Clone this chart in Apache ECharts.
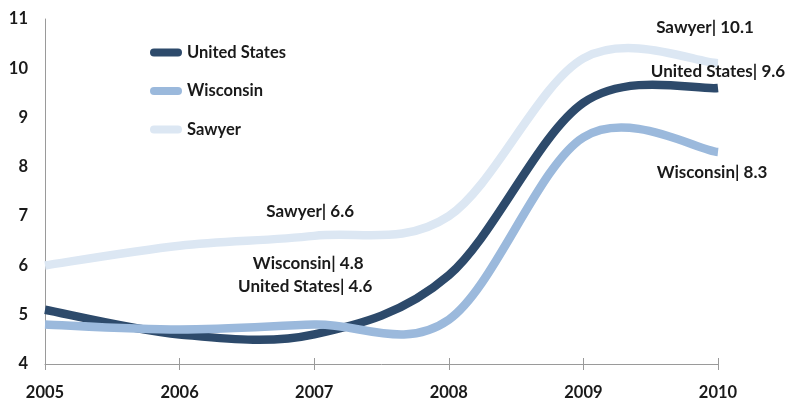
<!DOCTYPE html>
<html><head><meta charset="utf-8">
<script src="https://cdn.jsdelivr.net/npm/echarts@6/dist/echarts.min.js"></script>
<style>html,body{margin:0;padding:0;background:#fff}#c{width:787px;height:401px}</style>
</head><body><div id="c"></div>
<script>
var years = ['2005','2006','2007','2008','2009','2010'];
var usValues = [5.1, 4.6, 4.6, 5.8, 9.3, 9.6];
var wiValues = [4.8, 4.7, 4.8, 4.9, 8.6, 8.3];
var sawyerValues = [6.0, 6.4, 6.6, 7.0, 10.2, 10.1];
var seriesNames = ['United States', 'Wisconsin', 'Sawyer'];
var labelledIndices = [2, 5];

var colors = ['#2D4A6B', '#9BB9DC', '#DCE7F3'];
var FONT = 'Lato';
var TEXT_COLOR = '#1a1a1a';
var FONT_SIZE = 16.5;
var LABEL_FONT_SIZE = 17;

var allVals = [usValues, wiValues, sawyerValues];

// label placement (pixel offsets from the data point), per series per labelled index
var labelOffsets = [
  {2: [-9, -48], 5: [0, -16]},
  {2: [-6, -61], 5: [-6, 20]},
  {2: [-4, -24], 5: [-13, -36]}
];

// Smooth curve through the points (Catmull-Rom style, like spreadsheet smoothing)
function curveRenderer(k) {
  return function (params, api) {
    if (params.dataIndex !== 0) return;
    var vals = allVals[k];
    var pts = vals.map(function (v, i) { return api.coord([i, v]); });
    var n = pts.length;
    var d = 'M' + pts[0][0] + ',' + pts[0][1];
    for (var i = 0; i < n - 1; i++) {
      var p0 = pts[Math.max(0, i - 1)], p1 = pts[i], p2 = pts[i + 1], p3 = pts[Math.min(n - 1, i + 2)];
      var c1x = p1[0] + (p2[0] - p0[0]) / 6, c1y = p1[1] + (p2[1] - p0[1]) / 6;
      var c2x = p2[0] - (p3[0] - p1[0]) / 6, c2y = p2[1] - (p3[1] - p1[1]) / 6;
      d += ' C' + c1x + ',' + c1y + ' ' + c2x + ',' + c2y + ' ' + p2[0] + ',' + p2[1];
    }
    return {
      type: 'path',
      shape: {pathData: d},
      style: {fill: null, stroke: colors[k], lineWidth: 8.5, lineCap: 'butt', lineJoin: 'round'}
    };
  };
}

function labelRenderer(params, api) {
  if (params.dataIndex !== 0) return;
  var children = [];
  allVals.forEach(function (vals, k) {
    labelledIndices.forEach(function (i) {
      var p = api.coord([i, vals[i]]);
      var off = labelOffsets[k][i];
      children.push({
        type: 'text',
        x: p[0] + off[0],
        y: p[1] + off[1],
        style: {
          text: seriesNames[k] + '| ' + vals[i].toFixed(1),
          fill: TEXT_COLOR,
          font: 'bold ' + LABEL_FONT_SIZE + 'px ' + FONT,
          textAlign: 'center',
          textVerticalAlign: 'middle'
        }
      });
    });
  });
  return {type: 'group', children: children};
}

var zOrder = [2, 3, 1];
var series = seriesNames.map(function (n, k) {
  return {
    name: n,
    type: 'custom',
    z: zOrder[k],
    itemStyle: {color: colors[k]},
    renderItem: curveRenderer(k),
    encode: {x: 0, y: 1},
    data: allVals[k].map(function (v, i) { return [i, v]; })
  };
});
series.push({
  name: 'labels',
  type: 'custom',
  z: 10,
  silent: true,
  renderItem: labelRenderer,
  encode: {x: 0, y: 1},
  data: usValues.map(function (v, i) { return [i, v]; })
});

var chart = echarts.init(document.getElementById('c'));
chart.setOption({
  animation: false,
  grid: {left: 45, right: 69, top: 19, bottom: 35, containLabel: false},
  legend: {
    orient: 'vertical',
    left: 145,
    top: 39,
    itemGap: 21.5,
    itemWidth: 32,
    itemHeight: 8,
    data: seriesNames,
    icon: 'path://M4,0 L28,0 A4,4 0 0 1 28,8 L4,8 A4,4 0 0 1 4,0 Z',
    textStyle: {fontFamily: FONT, fontWeight: 'bold', fontSize: FONT_SIZE, color: TEXT_COLOR}
  },
  xAxis: [{
    type: 'category',
    data: years,
    boundaryGap: false,
    axisLine: {lineStyle: {color: '#9a9a9a', width: 1}},
    axisTick: {show: true, length: 6, lineStyle: {color: '#9a9a9a'}},
    axisLabel: {fontFamily: FONT, fontWeight: 'bold', fontSize: FONT_SIZE, color: TEXT_COLOR, margin: 20}
  }, {
    type: 'category',
    data: years,
    position: 'bottom',
    offset: 0,
    boundaryGap: false,
    axisLine: {show: false},
    axisTick: {show: true, inside: true, length: 6, lineStyle: {color: '#9a9a9a'}},
    axisLabel: {show: false}
  }],
  yAxis: {
    type: 'value',
    min: 4, max: 11, interval: 1,
    splitLine: {show: false},
    axisLine: {show: true, lineStyle: {color: '#9a9a9a', width: 1}},
    axisTick: {show: false},
    axisLabel: {fontFamily: FONT, fontWeight: 'bold', fontSize: FONT_SIZE, color: TEXT_COLOR, margin: 17}
  },
  series: series
});
</script></body></html>
